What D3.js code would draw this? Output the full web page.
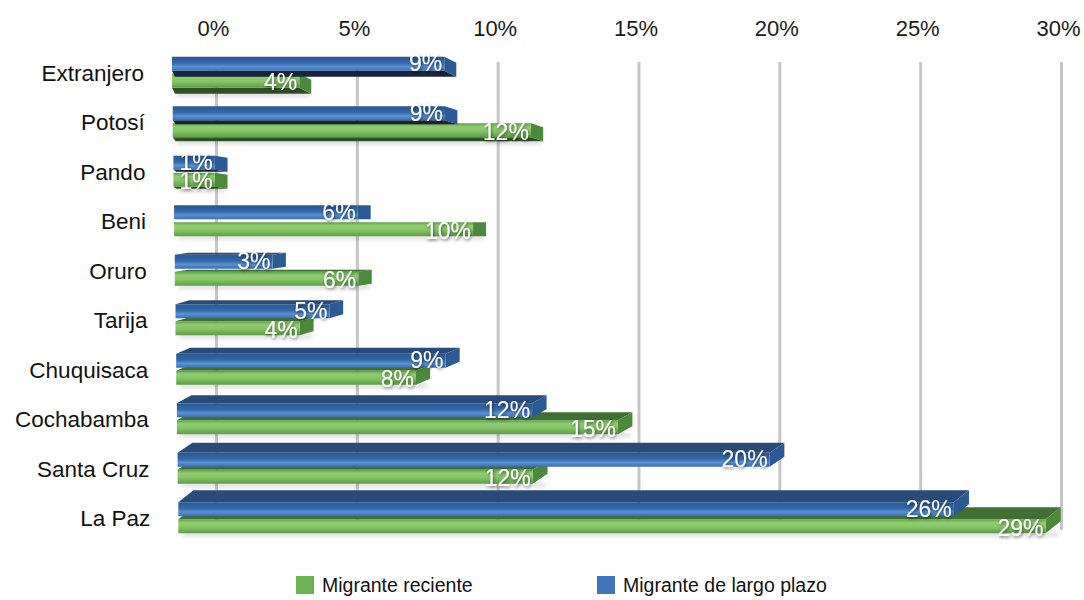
<!DOCTYPE html>
<html lang="en">
<head><meta charset="utf-8"><title>Migrantes por departamento</title>
<style>
body { margin: 0; background: #fff; }
svg text { font-family: "Liberation Sans", Arial, Helvetica, sans-serif; }
</style>
</head>
<body>
<svg width="1084" height="600"></svg>

<script src="https://d3js.org/d3.v7.min.js"></script>
<script>
// Data (percent)
var departamentos = ["Extranjero", "Potosí", "Pando", "Beni", "Oruro", "Tarija",
                     "Chuquisaca", "Cochabamba", "Santa Cruz", "La Paz"];
var reciente   = [4.3, 12.1, 1.4, 10.1, 6.2, 4.2, 8.1, 14.9, 12.0, 29.3];
var largoPlazo = [9.2, 9.2, 1.4, 6.2, 3.3, 5.2, 9.1, 12.0, 20.0, 26.2];
var tickValues = [0, 5, 10, 15, 20, 25, 30];
var seriesNames = ["Migrante reciente", "Migrante de largo plazo"];

var svg = d3.select("svg");
var defs = svg.append("defs");

// colours for the two series: front gradient stops, end cap, top/bottom faces
var palette = {
    green: { stops: [["0%", "#5f9e4a"], ["25%", "#8fcd70"], ["55%", "#86c567"], ["100%", "#5e9c47"]],
             cap: "#4a8a3a", top: "#3f6f33", under: "#2f4f26", legend: "#6bb453" },
    blue:  { stops: [["0%", "#2a5791"], ["45%", "#3469ab"], ["70%", "#5a92d4"], ["100%", "#3a6db0"]],
             cap: "#2b5a94", top: "#284b7a", under: "#18243a", legend: "#3f75bb" }
};
Object.keys(palette).forEach(function(k) {
    var g = defs.append("linearGradient").attr("id", "grad-" + k)
        .attr("x1", 0).attr("y1", 0).attr("x2", 0).attr("y2", 1);
    palette[k].stops.forEach(function(s) {
        g.append("stop").attr("offset", s[0]).attr("stop-color", s[1]);
    });
});
defs.append("filter").attr("id", "txtshadow")
    .append("feDropShadow").attr("dx", 1).attr("dy", 1.5).attr("stdDeviation", 1.5)
    .attr("flood-color", "#000").attr("flood-opacity", 0.5);
defs.append("filter").attr("id", "blur").attr("x", "-5%").attr("y", "-100%")
    .attr("width", "110%").attr("height", "300%")
    .append("feGaussianBlur").attr("stdDeviation", 2);

// back wall scale (gridlines and top labels)
var xGrid = d3.scaleLinear().domain([0, 30]).range([216, 1061]);
// bar length scale (bars are drawn a bit closer, so a bit bigger)
var xLen = d3.scaleLinear().domain([0, 30]).range([0, 30 * 29.6]);
var y = d3.scaleBand().domain(departamentos).range([48, 543]);
var pct = d3.format(".0%");

var axis = d3.axisTop(xGrid).tickValues(tickValues).tickSize(-468).tickPadding(26)
    .tickFormat(function(d) { return d + "%"; });
svg.append("g").attr("transform", "translate(0,62)").call(axis)
    .call(function(g) { g.select(".domain").remove(); })
    .call(function(g) { g.selectAll("line").attr("stroke", "#c6c6c6").attr("stroke-width", 3); })
    .call(function(g) {
        g.selectAll("text").attr("font-size", 22).attr("fill", "#1a1a1a").attr("dx", -3)
         .attr("font-family", '"Liberation Sans", Arial, sans-serif');
    });

// category labels (right edge drifts a little with the perspective)
svg.append("g").selectAll("text").data(departamentos).enter().append("text")
    .attr("x", function(d, i) { return 144 + i * 0.7; })
    .attr("y", function(d) { return y(d) + y.bandwidth() / 2; })
    .attr("dy", "0.35em")
    .attr("text-anchor", "end")
    .attr("font-size", 22.5)
    .attr("fill", "#111")
    .text(function(d) { return d; });

function poly(pts) { return "M" + pts.map(function(p) { return p.join(","); }).join("L") + "Z"; }

// one 3D-ish bar; dy > 0 shows the underside, dy < 0 shows the top face
function drawBar(g, key, value, x0, yt, yb, dx, dy) {
    var c = palette[key];
    var xF = x0 + xLen(value);
    if (dy > 0) {
        g.append("path").attr("d", poly([[x0, yb], [xF, yb], [xF + dx, yb + dy], [x0 + 3, yb + dy]]))
            .attr("fill", c.under);
    } else if (dy < 0) {
        g.append("path").attr("d", poly([[x0, yt], [xF, yt], [xF + dx, yt + dy], [x0 + dx, yt + dy]]))
            .attr("fill", c.top);
    }
    g.append("path").attr("d", poly([[xF, yt], [xF + dx, yt + dy], [xF + dx, yb + dy], [xF, yb]]))
        .attr("fill", c.cap);
    g.append("rect").attr("x", x0).attr("y", yt).attr("width", xF - x0).attr("height", yb - yt)
        .attr("fill", "url(#grad-" + key + ")");
    return xF;
}

var rows = svg.append("g");
departamentos.forEach(function(d, i) {
    var c = y(d) + y.bandwidth() / 2;
    var x0 = 172 + i * 0.7;
    var dx = 12 + i * 0.35;
    var dy = 6 - 2 * i;
    var g = rows.append("g");

    // soft shadow under the green bar
    g.append("rect").attr("x", x0 + 4).attr("y", c + 14 + Math.max(dy, 0))
        .attr("width", xLen(reciente[i]) + dx - 6).attr("height", 4)
        .attr("fill", "#000").attr("opacity", 0.15).attr("filter", "url(#blur)");

    var gF = drawBar(g, "green", reciente[i], x0, c + 1, c + 15, dx, dy);
    var bF = drawBar(g, "blue", largoPlazo[i], x0, c - 16, c - 2, dx, dy);

    [[gF, c + 9, reciente[i]], [bF, c - 10, largoPlazo[i]]].forEach(function(l) {
        g.append("text").attr("x", l[0] - 2).attr("y", l[1]).attr("dy", "0.36em")
            .attr("text-anchor", "end").attr("font-size", 23).attr("fill", "#fff")
            .attr("filter", "url(#txtshadow)")
            .text(pct(l[2] / 100));
    });
});

// legend
var legend = svg.append("g");
var legendX = [296, 597];
seriesNames.forEach(function(name, i) {
    var key = i === 0 ? "green" : "blue";
    legend.append("rect").attr("x", legendX[i]).attr("y", 576).attr("width", 18).attr("height", 18)
        .attr("fill", palette[key].legend);
    legend.append("text").attr("x", legendX[i] + 26).attr("y", 585).attr("dy", "0.35em")
        .attr("font-size", 19.5).attr("fill", "#111").text(name);
});
</script>
</body>
</html>
